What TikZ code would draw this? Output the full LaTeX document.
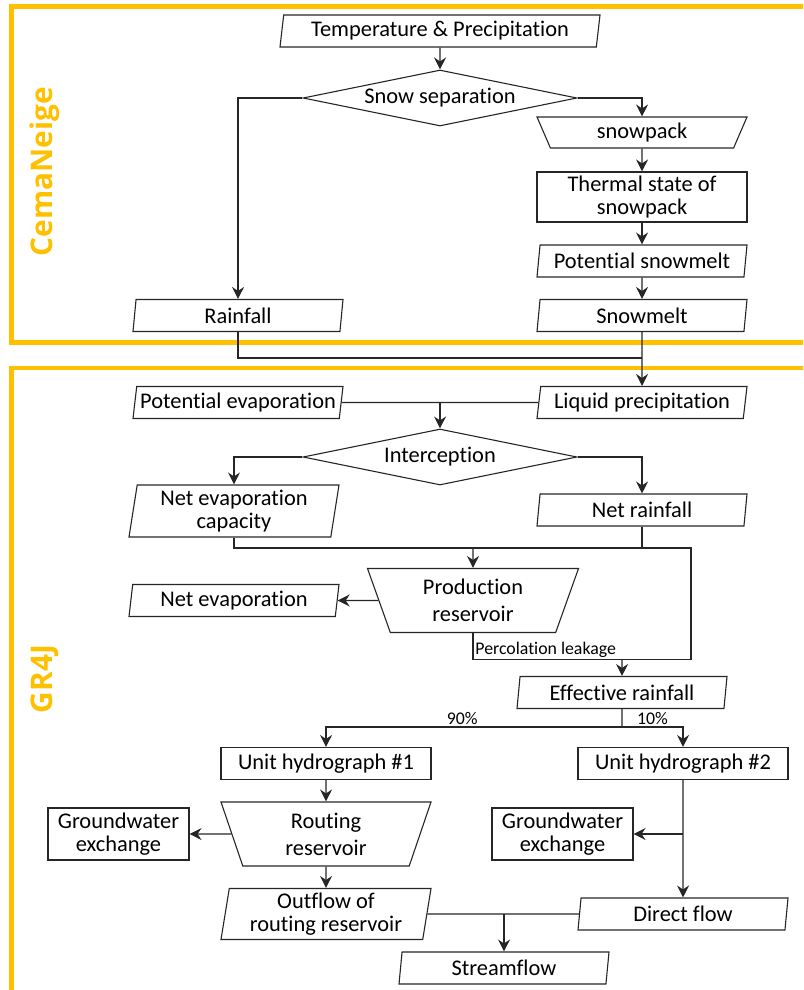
\documentclass[tikz,border=0pt]{standalone}
\usepackage{fontspec}
\setmainfont{Carlito}[Ligatures={NoCommon}]
\newfontfamily\framefont{Open Sans}
\usetikzlibrary{shapes.geometric,arrows.meta}
\definecolor{frameorange}{HTML}{FFC000}
\definecolor{linegray}{HTML}{262626}
\newcommand{\mainsize}{\fontsize{11.2}{11.6}\selectfont}
\newcommand{\smallsize}{\fontsize{8.9}{10}\selectfont}
\tikzset{
  box/.style={draw=linegray, line width=0.55pt, rectangle, minimum width=105pt, minimum height=16pt, inner sep=0pt, align=center, font=\mainsize},
  data/.style={box, trapezium, trapezium left angle=79, trapezium right angle=101, trapezium stretches body},
  store/.style={box, trapezium, trapezium angle=#1, shape border rotate=180, trapezium stretches body},
  choice/.style={box, diamond, aspect=4.9, minimum width=137pt, minimum height=28pt},
  flow/.style={draw=linegray, line width=0.55pt, -{Stealth[length=6pt,width=6pt,inset=2pt]}},
  link/.style={draw=linegray, line width=0.55pt},
  frame/.style={draw=frameorange, line width=2.3pt},
  framelabel/.style={text=frameorange, font=\framefont\bfseries\fontsize{14.9}{16}\selectfont, rotate=90, anchor=base, inner sep=0pt},
  share/.style={font=\smallsize, above, inner sep=1pt}
}

\begin{document}
\begin{tikzpicture}[x=0.5pt, y=-0.5pt]
\useasboundingbox (0,0) rectangle (803,990);
\clip (0,0) rectangle (803,990);
\draw[frame] (11.5,6.5) rectangle (1000,342.5);
\draw[frame] (11.5,368) rectangle (1000,1100);
\node[framelabel] (cemaneige) at (52,171.5) {CemaNeige};
\node[framelabel] (gr4j) at (52,679) {GR4J};

\node[data, minimum width=160pt] (temp) at (440,31) {Temperature \& Precipitation};
\node[choice] (snowsep) at (440,98) {Snow separation};
\node[store=55, minimum height=15.5pt] (snowpack) at (642,132.5) {snowpack};
\node[box, minimum height=25pt] (thermal) at (642,197) {Thermal state of\\snowpack};
\node[data] (potmelt) at (642,261) {Potential snowmelt};
\node[data] (snowmelt) at (642,315.5) {Snowmelt};
\node[data] (rainfall) at (238,315.5) {Rainfall};
\node[data] (potevap) at (238,402.5) {Potential evaporation};
\node[data] (liquid) at (642,402.5) {Liquid precipitation};
\node[choice] (interc) at (440,457) {Interception};
\node[data, minimum height=26pt] (netevapcap) at (234,511) {Net evaporation\\capacity};
\node[data] (netrain) at (642,510) {Net rainfall};
\node[store=62, minimum width=105.5pt, minimum height=32pt] (prod) at (473,600.5) {Production\\[2pt]reservoir};
\node[data] (netevap) at (234,600.5) {Net evaporation};
\node[data] (effrain) at (622,692.5) {Effective rainfall};
\node[box] (uh1) at (326,763.5) {Unit hydrograph \#1};
\node[box] (uh2) at (683,763.5) {Unit hydrograph \#2};
\node[store=63, minimum height=32pt] (routing) at (326,834) {Routing\\[2pt]reservoir};
\node[box, minimum width=70.5pt, minimum height=26pt] (gw1) at (118.5,834) {Groundwater\\exchange};
\node[box, minimum width=70.5pt, minimum height=26pt] (gw2) at (562.5,834) {Groundwater\\exchange};
\node[data, minimum height=25.5pt] (outflow) at (326,914) {Outflow of\\routing reservoir};
\node[data] (direct) at (683,914) {Direct flow};
\node[data] (stream) at (504,968) {Streamflow};

\coordinate (meltjoin) at (642,358);
\coordinate (prodin) at (691,548);
\coordinate (prodout) at (691,659.5);
\coordinate (split) at (622,727);

\draw[flow] (temp) -- (snowsep);
\draw[flow] (snowsep) -| (rainfall);
\draw[flow] (snowsep) -| (snowpack);
\draw[flow] (snowpack) -- (thermal);
\draw[flow] (thermal) -- (potmelt);
\draw[flow] (potmelt) -- (snowmelt);
\draw[link] (rainfall) |- (meltjoin);
\draw[flow] (snowmelt) -- (liquid);
\draw[link] (potevap) -- (liquid);
\draw[flow] (interc |- potevap) -- (interc);
\draw[flow] (interc) -| (netevapcap);
\draw[flow] (interc) -| (netrain);
\draw[link] (netevapcap) |- (prodin) -- (prodout) -| (prod);
\draw[link] (netrain) -- (netrain |- prodin);
\draw[flow] (prod |- prodin) -- (prod);
\draw[flow] (prod) -- (netevap);
\node[font=\smallsize, anchor=south west, inner sep=1pt] (perc) at (prod |- prodout) {Percolation leakage};
\draw[flow] (effrain |- prodout) -- (effrain);
\draw[link] (effrain) -- (split);
\draw[flow] (split) -| node[share, pos=0.27] (p90) {90\%} (uh1);
\draw[flow] (split) -| node[share, pos=0.25] (p10) {10\%} (uh2);
\draw[flow] (uh1) -- (routing);
\draw[flow] (routing) -- (gw1);
\draw[flow] (routing) -- (outflow);
\draw[flow] (uh2) -- (direct);
\draw[flow] (uh2 |- gw2) -- (gw2);
\draw[link] (outflow) -- (direct);
\draw[flow] (stream |- outflow) -- (stream);
\end{tikzpicture}
\end{document}
